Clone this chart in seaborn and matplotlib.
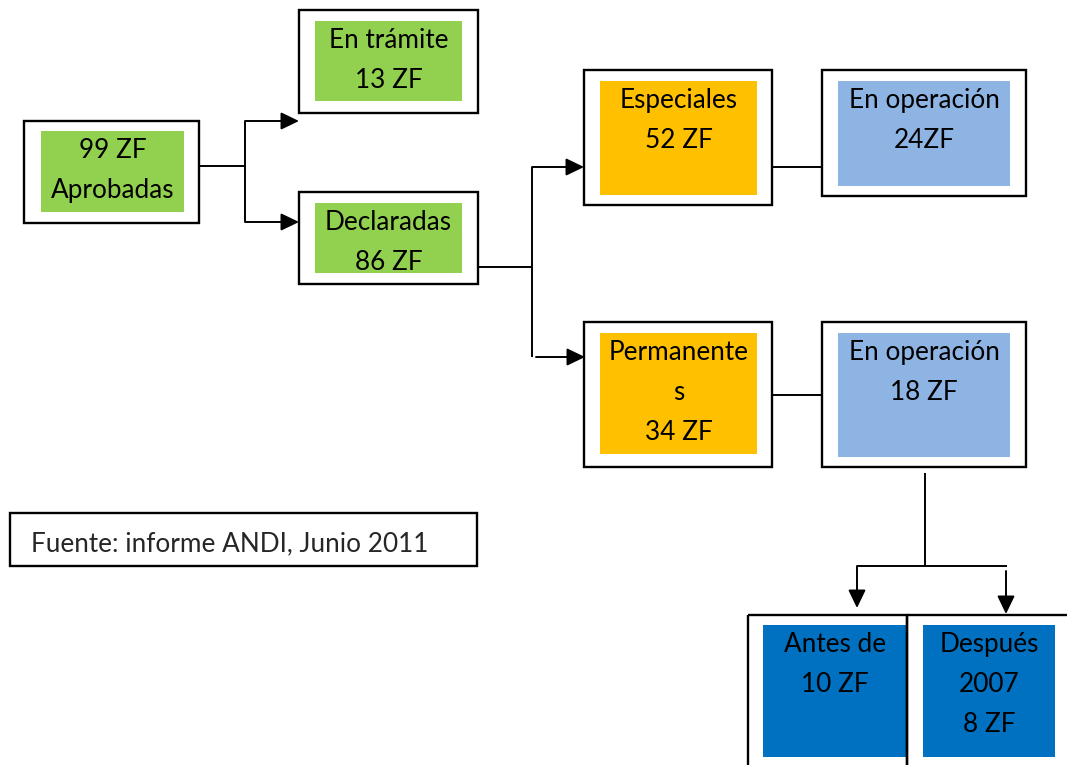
"""
Flow diagram: zonas francas (ZF) aprobadas, declaradas y en operación.
"""

import matplotlib
matplotlib.use("Agg")
import matplotlib.pyplot as plt
import seaborn as sns
from matplotlib.patches import FancyArrowPatch, Rectangle

# ---- data -------------------------------------------------------------
box_names = ["aprobadas", "tramite", "declaradas", "especiales",
             "oper_esp", "permanentes", "oper_perm", "antes", "despues"]
box_lines = [
    ["99 ZF", "Aprobadas"],
    ["En trámite", "13 ZF"],
    ["Declaradas", "86 ZF"],
    ["Especiales", "52 ZF"],
    ["En operación", "24ZF"],
    ["Permanente", "s", "34 ZF"],
    ["En operación", "18 ZF"],
    ["Antes de", "10 ZF"],
    ["Después", "2007", "8 ZF"],
]
source_note = "Fuente: informe ANDI, Junio 2011"

# ---- layout (pixels, origin top-left) --------------------------------
# outer frame (x0, y0, x1, y1) and inner coloured fill
outer = {
    "aprobadas": (24, 121, 199, 223),
    "tramite": (299, 10, 478, 113),
    "declaradas": (299, 192, 478, 284),
    "especiales": (584, 70, 772, 205),
    "oper_esp": (822, 70, 1026, 196),
    "permanentes": (584, 322, 772, 467),
    "oper_perm": (822, 322, 1026, 467),
    "antes": (748, 615, 907, 780),
    "despues": (907, 615, 1080, 780),
}
inner = {
    "aprobadas": (41, 131, 184, 212),
    "tramite": (315, 21, 462, 101),
    "declaradas": (315, 203, 462, 273),
    "especiales": (600, 81, 757, 195),
    "oper_esp": (838, 81, 1010, 186),
    "permanentes": (600, 333, 757, 454),
    "oper_perm": (838, 333, 1010, 457),
    "antes": (763, 625, 907, 757),
    "despues": (923, 625, 1055, 757),
}
GREEN = "#92D050"
ORANGE = "#FFC000"
LIGHT_BLUE = "#8EB4E3"
DARK_BLUE = "#0070C0"
fill = {
    "aprobadas": GREEN, "tramite": GREEN, "declaradas": GREEN,
    "especiales": ORANGE, "permanentes": ORANGE,
    "oper_esp": LIGHT_BLUE, "oper_perm": LIGHT_BLUE,
    "antes": DARK_BLUE, "despues": DARK_BLUE,
}

W, H = 1067, 765
FONT = 18.8
LW_BOX = 1.7
LW_LINE = 1.4

sns.set_style("white")
plt.rcParams["font.family"] = ["Lato", "DejaVu Sans"]

fig = plt.figure(figsize=(W / 100, H / 100), dpi=100)
ax = fig.add_axes([0, 0, 1, 1])
ax.set_xlim(0, W)
ax.set_ylim(H, 0)
ax.axis("off")


def rect(x0, y0, x1, y1, **kw):
    ax.add_patch(Rectangle((x0, y0), x1 - x0, y1 - y0, **kw))


def line(xs, ys):
    ax.plot(xs, ys, color="black", lw=LW_LINE, solid_capstyle="butt")


def arrow(p0, p1):
    ax.add_patch(FancyArrowPatch(
        p0, p1, arrowstyle="-|>,head_length=11,head_width=5.3",
        mutation_scale=1, color="black", lw=LW_LINE,
        shrinkA=0, shrinkB=0))


for name, lines in zip(box_names, box_lines):
    rect(*inner[name], facecolor=fill[name], edgecolor="none", zorder=1)
    rect(*outer[name], facecolor="none", edgecolor="black", lw=LW_BOX, zorder=2)
    x0, y0, x1, _ = inner[name]
    for i, txt in enumerate(lines):
        ax.text((x0 + x1) / 2, y0 + 27 + 40 * i, txt, fontsize=FONT,
                ha="center", va="baseline", color="black", zorder=3)

# source note
rect(10, 513, 477, 566, facecolor="none", edgecolor="black", lw=LW_BOX)
ax.text(31, 551, source_note, fontsize=FONT, ha="left", va="baseline")

# aprobadas -> tramite / declaradas
line([199, 245], [166, 166])
line([245, 245], [121, 222])
arrow((245, 121), (299, 121))
arrow((245, 222), (299, 222))

# declaradas -> especiales / permanentes
line([478, 532], [267, 267])
line([532, 532], [167, 357])
arrow((532, 167), (584, 167))
arrow((536, 357), (585, 357))

# to en operación
line([772, 822], [167, 167])
line([772, 822], [395, 395])

# en operación -> antes / después
line([925, 925], [473, 566])
line([857, 1007], [566, 566])
arrow((857, 566), (857, 608))
arrow((1006, 571), (1006, 614))

fig.savefig("out.png", dpi=100)
